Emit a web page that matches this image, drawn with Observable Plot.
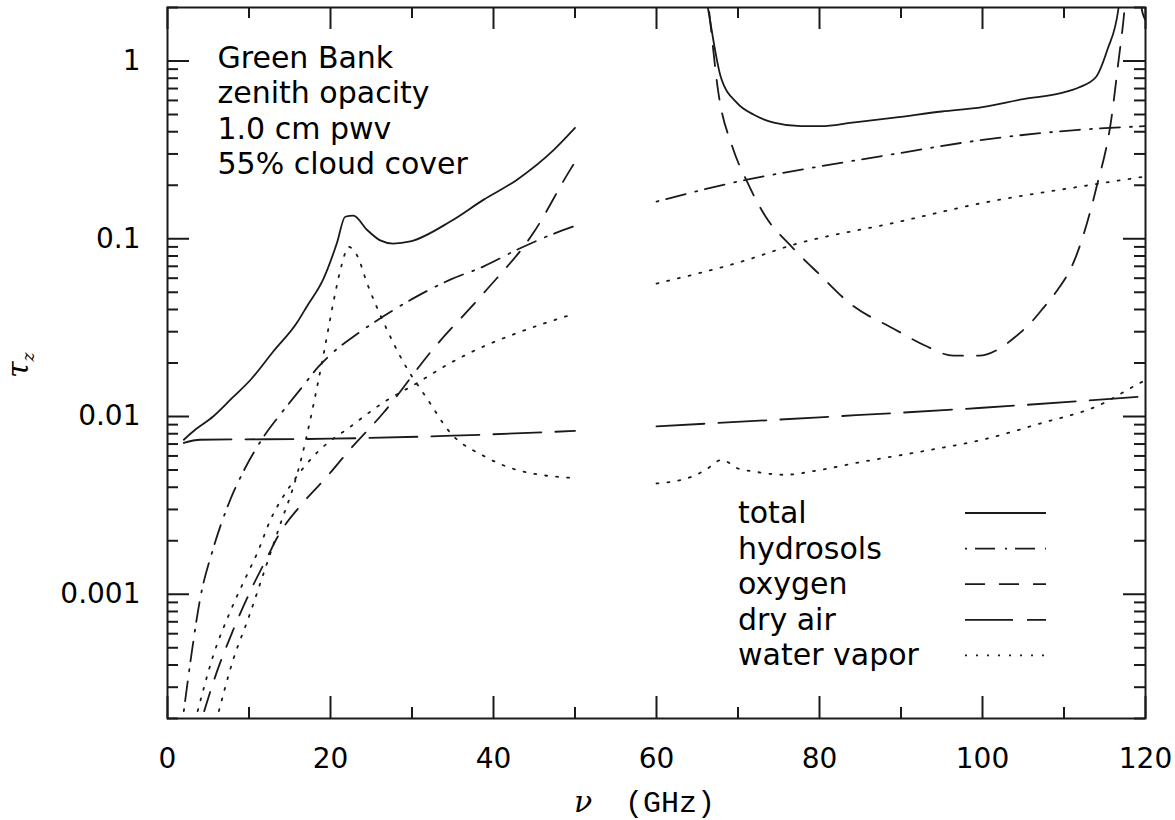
<!DOCTYPE html>
<html><head><meta charset="utf-8">
<script src="https://cdn.jsdelivr.net/npm/d3@7"></script>
<script src="https://cdn.jsdelivr.net/npm/@observablehq/plot@0.6"></script>
<style>
html,body{margin:0;padding:0;background:#fff;}
#chart svg{display:block;}
</style></head><body><div id="chart"></div>
<script>
// ---- data ----
const seriesNames = ["total", "hydrosols", "oxygen", "dry air", "water vapor"];
const noteLines = ["Green Bank", "zenith opacity", "1.0 cm pwv", "55% cloud cover"];
const xTicksMajor = [0, 20, 40, 60, 80, 100, 120];
const xTicksMinor = [10, 30, 50, 70, 90, 110];
const yTicksMajor = [0.001, 0.01, 0.1, 1];
const yTickLabels = ["0.001", "0.01", "0.1", "1"];
const yTicksMinor = [0.0002,0.0003,0.0004,0.0005,0.0006,0.0007,0.0008,0.0009,
                     0.002,0.003,0.004,0.005,0.006,0.007,0.008,0.009,
                     0.02,0.03,0.04,0.05,0.06,0.07,0.08,0.09,
                     0.2,0.3,0.4,0.5,0.6,0.7,0.8,0.9,2];

const totalNuLo  = [2,3.5,5.6,8,10.2,13,15.9,17.1,19.1,20.8,21.8,22.8,24.5,26.1,27.7,29.8,34.7,38.8,42.9,47.4,50];
const totalTauLo = [0.0074,0.0085,0.0100,0.0128,0.0161,0.0233,0.0338,0.0416,0.059,0.095,0.133,0.135,0.112,0.098,0.094,0.0966,0.125,0.166,0.215,0.316,0.42];
const totalNuHi  = [64.5,66.3,67.9,69.9,71.9,74.4,77.7,80.2,84,89.2,95,100,105,109.6,111.8,113.9,115.3,116.7,117.5,119,119.5,120];
const totalTauHi = [6,2.0,0.81,0.58,0.50,0.45,0.43,0.43,0.45,0.48,0.52,0.55,0.61,0.66,0.71,0.81,1.15,2.0,5,3.2,2.0,1.7];

const hydroNuLo  = [2,3,4,5.6,7.7,9.5,11.8,14,16.3,18.5,20.8,22.5,26.5,30.6,34.7,38.8,42.9,47,50];
const hydroTauLo = [0.00022,0.00048,0.00094,0.0018,0.0034,0.0051,0.0077,0.0105,0.0142,0.019,0.024,0.0275,0.0366,0.0474,0.0589,0.0699,0.0868,0.105,0.118];
const hydroNuHi  = [60,71.1,80,89.2,100,111.8,120];
const hydroTauHi = [0.162,0.215,0.255,0.30,0.36,0.41,0.43];

const oxyNuLo  = [4.5,6,8,10.2,12.2,13.5,16.7,19.4,22.1,26.5,32.6,38.8,44.9,49.4,50];
const oxyTauLo = [0.00022,0.00036,0.00062,0.00105,0.0016,0.0021,0.0033,0.0045,0.0063,0.0105,0.024,0.0495,0.108,0.244,0.27];
const oxyNuHi  = [65,66.4,67.6,69.3,71.1,73.4,76.6,80,83.8,89.2,93,96.4,99.6,102,104,106,107.5,109,111.3,114,115.8,116.7,117.4,118.2];
const oxyTauHi = [7,2.0,0.66,0.33,0.21,0.133,0.090,0.063,0.043,0.031,0.025,0.022,0.022,0.024,0.028,0.034,0.041,0.05,0.076,0.196,0.47,1.01,1.9,6];

const dryNuLo  = [2,4,20,35,50];
const dryTauLo = [0.0071,0.0074,0.0075,0.0078,0.0083];
const dryNuHi  = [60,80,100,120];
const dryTauHi = [0.0088,0.0099,0.0112,0.013];

const wvLineNuLo  = [6.3,8,10,12,14,15.5,16.5,17.5,18.4,19.2,20.4,21.4,22.2,23.3,24.5,26.5,29,31.9,34.7,38.8,42.9,50];
const wvLineTauLo = [0.00022,0.00042,0.00075,0.0014,0.0026,0.0041,0.0060,0.0095,0.0150,0.023,0.045,0.072,0.090,0.080,0.056,0.034,0.020,0.0125,0.0081,0.0060,0.0050,0.0045];
const wvLineNuHi  = [60,64.4,66,68,70,72,75.7,80,84.7,93.7,100,107.3,114,119.4,120];
const wvLineTauHi = [0.0042,0.0046,0.0050,0.0057,0.0051,0.0049,0.0047,0.0050,0.0055,0.0065,0.0074,0.0092,0.0114,0.0155,0.016];

const wvContNuLo  = [3.7,5.6,7.7,9.8,11,12.6,15.1,18.4,22.5,26.5,30.6,34.7,38.8,42.9,50];
const wvContTauLo = [0.00022,0.00045,0.00080,0.0013,0.0017,0.0026,0.0041,0.0063,0.0088,0.012,0.0154,0.020,0.0248,0.0295,0.038];
const wvContNuHi  = [60,71.1,76.6,89.2,100,111.8,120];
const wvContTauHi = [0.056,0.076,0.092,0.123,0.159,0.196,0.224];

// ---- build table ----
function rows(series, part, nu, tau) {
  return nu.map((v, i) => ({series, part, nu: v, tau: tau[i]}));
}
const table = [
  ...rows("total", "lo", totalNuLo, totalTauLo), ...rows("total", "hi", totalNuHi, totalTauHi),
  ...rows("hydrosols", "lo", hydroNuLo, hydroTauLo), ...rows("hydrosols", "hi", hydroNuHi, hydroTauHi),
  ...rows("oxygen", "lo", oxyNuLo, oxyTauLo), ...rows("oxygen", "hi", oxyNuHi, oxyTauHi),
  ...rows("dry air", "lo", dryNuLo, dryTauLo), ...rows("dry air", "hi", dryNuHi, dryTauHi),
  ...rows("water vapor", "line-lo", wvLineNuLo, wvLineTauLo), ...rows("water vapor", "line-hi", wvLineNuHi, wvLineTauHi),
  ...rows("water vapor", "cont-lo", wvContNuLo, wvContTauLo), ...rows("water vapor", "cont-hi", wvContNuHi, wvContTauHi)
];

const dash = {"total": null, "hydrosols": "2,8,20,10", "oxygen": "20,14", "dry air": "48,14", "water vapor": "2,9"};
const ink = "#1a1a1a";
const sans = "'DejaVu Sans', Verdana, sans-serif";

const W = 1175, H = 820, mL = 167, mR = 30, mT = 7, mB = 102;
const innerW = W - mL - mR, innerH = H - mT - mB;
const majorLen = 22, minorLen = 11;

const marks = [];
for (const s of seriesNames) {
  marks.push(Plot.line(table.filter(d => d.series === s), {
    x: "nu", y: "tau", z: "part", stroke: ink, strokeWidth: 1.8,
    strokeDasharray: dash[s], curve: "monotone-x", clip: true
  }));
}
// inward ticks on all four sides
marks.push(
  Plot.tickX(xTicksMajor, {x: d => d, insetTop: innerH - majorLen, stroke: ink, strokeWidth: 2}),
  Plot.tickX(xTicksMajor, {x: d => d, insetBottom: innerH - majorLen, stroke: ink, strokeWidth: 2}),
  Plot.tickX(xTicksMinor, {x: d => d, insetTop: innerH - minorLen, stroke: ink, strokeWidth: 2}),
  Plot.tickX(xTicksMinor, {x: d => d, insetBottom: innerH - minorLen, stroke: ink, strokeWidth: 2}),
  Plot.tickY(yTicksMajor, {y: d => d, insetRight: innerW - majorLen, stroke: ink, strokeWidth: 2}),
  Plot.tickY(yTicksMajor, {y: d => d, insetLeft: innerW - majorLen, stroke: ink, strokeWidth: 2}),
  Plot.tickY(yTicksMinor, {y: d => d, insetRight: innerW - minorLen, stroke: ink, strokeWidth: 2}),
  Plot.tickY(yTicksMinor, {y: d => d, insetLeft: innerW - minorLen, stroke: ink, strokeWidth: 2}),
  Plot.frame({stroke: ink, strokeWidth: 2}),
  Plot.axisX({ticks: xTicksMajor, tickSize: 0, tickPadding: 30, fontSize: 28, label: null, tickFormat: d => String(d)}),
  Plot.axisY({ticks: yTicksMajor, tickSize: 0, tickPadding: 27, fontSize: 28, label: null,
              tickFormat: d => yTickLabels[yTicksMajor.indexOf(d)]}),
  Plot.text([noteLines.join("\n")], {frameAnchor: "top-left", dx: 50, dy: 35, lineAnchor: "top",
              textAnchor: "start", fontSize: 30, lineHeight: 1.183, fill: "#000"})
);

const chart = Plot.plot({
  width: W, height: H,
  marginLeft: mL, marginRight: mR, marginTop: mT, marginBottom: mB,
  style: {fontFamily: sans, color: "#000", background: "#fff"},
  x: {domain: [0, 120], label: null},
  y: {type: "log", domain: [0.0002, 2], label: null},
  marks
});
document.getElementById("chart").appendChild(chart);

// ---- legend and axis titles ----
const svg = d3.select(chart);
const leg = svg.append("g").attr("class", "legend");
const legTop = 513, legStep = 35.6, legTextX = 738, legX1 = 965, legX2 = 1046;
seriesNames.forEach((s, i) => {
  const y = legTop + i * legStep;
  leg.append("text").attr("x", legTextX).attr("y", y + 10).attr("text-anchor", "start")
    .attr("font-family", sans).attr("font-size", 30).attr("fill", "#000").text(s);
  leg.append("line").attr("x1", legX1).attr("x2", legX2).attr("y1", y).attr("y2", y)
    .attr("stroke", ink).attr("stroke-width", 1.8).attr("stroke-dasharray", dash[s]);
});
const xl = svg.append("g");
xl.append("text").attr("x", 583).attr("y", 812).attr("text-anchor", "middle")
  .attr("font-family", "'DejaVu Serif', serif").attr("font-style", "italic").attr("font-size", 30).text("ν");
xl.append("text").attr("x", 625).attr("y", 812).attr("text-anchor", "start")
  .attr("font-family", "'Liberation Mono', monospace").attr("font-size", 30).text("(GHz)");
const yl = svg.append("text").attr("transform", "translate(28,378) rotate(-90)").attr("text-anchor", "start")
  .attr("font-family", "'DejaVu Serif', serif").attr("font-style", "italic").attr("font-size", 30);
yl.append("tspan").text("τ");
yl.append("tspan").attr("font-size", 17).attr("dy", 6).text("z");
</script></body></html>
